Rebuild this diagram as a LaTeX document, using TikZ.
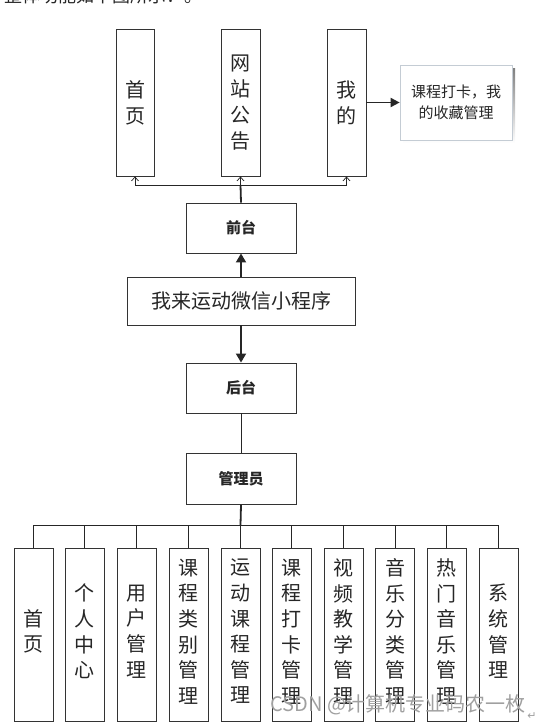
\documentclass[tikz,border=0pt]{standalone}
\usepackage{fontspec}
\newfontfamily\cjk{Noto Sans CJK SC}
\newfontfamily\symb{DejaVu Sans}
\usetikzlibrary{arrows.meta}
\definecolor{ink}{HTML}{262626}
\definecolor{edge}{HTML}{333333}
\definecolor{pale}{HTML}{C4CCD4}
\definecolor{shade}{HTML}{E6EBF0}
\definecolor{mark}{HTML}{A0A0A0}

\begin{document}
\begin{tikzpicture}[x=1pt,y=-1pt,font=\cjk,
    colbox/.style={draw=edge,line width=0.9pt,inner sep=0pt,text=ink,align=center,
      font=\cjk\fontsize{20}{26}\selectfont},
    flatbox/.style={draw=edge,line width=0.9pt,minimum width=110pt,minimum height=50pt,
      inner sep=0pt,text=ink,font=\cjk\fontsize{15}{18}\selectfont},
    thinline/.style={draw=ink,line width=0.7pt},
    thickline/.style={draw=ink,line width=1.8pt}]
    \useasboundingbox (0,0) rectangle (542,725);

    % page text cut by the top edge
    \node[anchor=west,text=ink,inner sep=0pt,font=\cjk\fontsize{18}{20}\selectfont]
      (caption) at (4,-4) {整体功能如下图所示：。};

    % front end pages
    \node[colbox,minimum width=38pt,minimum height=147pt] (home) at (135,102.5) {首\\页};
    \node[colbox,minimum width=39pt,minimum height=147pt] (notice) at (240.5,102.5) {网\\站\\公\\告};
    \node[colbox,minimum width=39pt,minimum height=147pt] (mine) at (346.5,102.5) {我\\的};
    \fill[shade] (403,68) rectangle (515,143);
    \node[draw=pale,fill=white,line width=0.7pt,minimum width=112pt,minimum height=75pt,
      inner sep=0pt,align=center,text=ink,font=\cjk\fontsize{15}{21}\selectfont]
      (favs) at (456,102.5) {课程打卡，我\\的收藏管理};
    \draw[thickline,-{Triangle[length=9pt,width=9pt]}] (mine.east) -- (favs.west);

    \node[flatbox] (front) at (241,228) {\bfseries 前台};
    \node[draw=edge,line width=0.9pt,minimum width=228pt,minimum height=48pt,inner sep=0pt,
      text=ink,font=\cjk\fontsize{20}{24}\selectfont] (app) at (241,301) {我来运动微信小程序};
    \node[flatbox] (back) at (241,388) {\bfseries 后台};
    \node[flatbox,minimum height=51pt] (admin) at (241,479) {\bfseries 管理员};

    % the top fan, open heads
    \coordinate (tbus) at (240.5,185);
    \draw[thickline] (front.north) -- (tbus);
    \foreach \n in {home,notice,mine}
      \draw[thinline,-{Straight Barb[length=4pt,width=7pt]}] (tbus) -| (\n.south);

    \draw[thickline,-{Triangle[length=9pt,width=10pt]}] (app.north) -- (front.south);
    \draw[thickline,-{Triangle[length=9pt,width=10pt]}] (app.south) -- (back.north);
    \draw[thinline] (back.south) -- (admin.north);

    % admin modules, one column each
    \foreach \i/\x/\lab in {1/33.5/{首\\页},2/84.5/{个\\人\\中\\心},3/136.5/{用\\户\\管\\理},
        4/188.5/{课\\程\\类\\别\\管\\理},5/240.5/{运\\动\\课\\程\\管\\理},
        6/291.5/{课\\程\\打\\卡\\管\\理},7/343.5/{视\\频\\教\\学\\管\\理},
        8/395/{音\\乐\\分\\类\\管\\理},9/446.5/{热\\门\\音\\乐\\管\\理},
        10/498.5/{系\\统\\管\\理}}{
      \node[colbox,minimum width=39pt,minimum height=173pt] (m\i) at (\x,634.5) {};
      \node[text=ink,align=center,inner sep=0pt,font=\cjk\fontsize{20}{25.6}\selectfont]
        (t\i) at (\x,631.5) {\lab};}
    \coordinate (bbus) at (240.5,525);
    \draw[thickline] (admin.south) -- (bbus);
    \foreach \i in {1,...,10}
      \draw[thinline] (bbus) -| (m\i.north);

    % watermark over the lower right
    \node[anchor=west,text=mark,inner sep=0pt,font=\cjk\fontsize{20}{22}\selectfont]
      (wm) at (270,705) {CSDN @计算机专业码农一枚};
    \node[text=mark,inner sep=0pt,font=\symb\fontsize{11}{12}\selectfont] (ret) at (532,716) {↵};
  \end{tikzpicture}
\end{document}
